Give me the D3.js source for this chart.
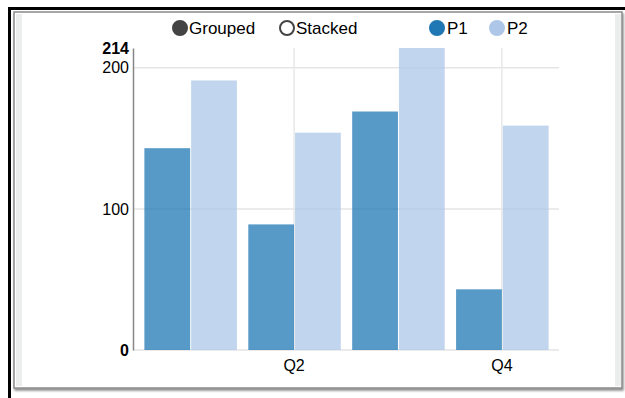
<!DOCTYPE html>
<html>
<head>
<meta charset="utf-8">
<script src="https://cdn.jsdelivr.net/npm/d3@7/dist/d3.min.js"></script>
<style>
  html, body { margin: 0; padding: 0; background: #fff; }
  svg { display: block; font-family: "Liberation Sans", Arial, sans-serif; }
</style>
</head>
<body>
<svg id="chart" width="625" height="398"></svg>
<script>
// Quarterly values for the two series
const categories = ["Q1", "Q2", "Q3", "Q4"];
const seriesNames = ["P1", "P2"];
const p1Values = [143, 89, 169, 43];
const p2Values = [191, 154, 214, 159];
const yTickValues = [0, 100, 200, 214];
const xTickLabels = ["Q2", "Q4"];
const controlLabels = ["Grouped", "Stacked"];

const colors = ["#1f77b4", "#aec7e8"];
const seriesValues = [p1Values, p2Values];

const svg = d3.select("#chart");

// Page frame: dark rules and the shadowed panel
const defs = svg.append("defs");
const f = defs.append("filter").attr("id", "shadow").attr("x", "-5%").attr("y", "-5%").attr("width", "110%").attr("height", "110%");
f.append("feDropShadow").attr("dx", 1).attr("dy", 2).attr("stdDeviation", 1.2).attr("flood-color", "#000").attr("flood-opacity", 0.45);

svg.append("rect").attr("x", 14).attr("y", 12).attr("width", 608).attr("height", 376)
  .attr("fill", "#fff").attr("stroke", "#8a8a8a").attr("stroke-width", 1.5).attr("filter", "url(#shadow)");
svg.append("rect").attr("x", 16).attr("y", 14).attr("width", 6).attr("height", 372).attr("fill", "#eceeee");
svg.append("rect").attr("x", 615).attr("y", 14).attr("width", 6).attr("height", 372).attr("fill", "#eceeee");
svg.append("rect").attr("x", 8).attr("y", 7).attr("width", 617).attr("height", 3).attr("fill", "#000");
svg.append("rect").attr("x", 8).attr("y", 7).attr("width", 3).attr("height", 391).attr("fill", "#000");

// Scales
const x0 = d3.scaleBand().domain(categories).range([133, 559]).paddingInner(0.1).paddingOuter(0.1);
const x1 = d3.scaleBand().domain(seriesNames).range([0, x0.bandwidth()]);
const y = d3.scaleLinear().domain([0, 214]).range([350, 48]);

const plot = svg.append("g");

// Horizontal grid lines
plot.append("g").selectAll("line").data([0, 100, 200]).join("line")
  .attr("x1", 133).attr("x2", 559)
  .attr("y1", d => y(d)).attr("y2", d => y(d))
  .attr("stroke", "#e5e5e5").attr("stroke-width", 1.5);

// Vertical grid lines at labelled quarters
plot.append("g").selectAll("line").data(xTickLabels).join("line")
  .attr("x1", d => x0(d) + x0.bandwidth() / 2).attr("x2", d => x0(d) + x0.bandwidth() / 2)
  .attr("y1", y(214)).attr("y2", y(0))
  .attr("stroke", "#e8e8e8").attr("stroke-width", 1.5);

// Bars
const groups = plot.append("g").selectAll("g").data(categories).join("g")
  .attr("transform", d => `translate(${x0(d)},0)`);
groups.selectAll("rect").data((c, ci) => seriesNames.map((s, si) => ({ s, si, v: seriesValues[si][ci] }))).join("rect")
  .attr("x", d => x1(d.s) + 1)
  .attr("width", x1.bandwidth() - 1)
  .attr("y", d => y(d.v))
  .attr("height", d => y(0) - y(d.v))
  .attr("fill", d => colors[d.si])
  .attr("fill-opacity", 0.75);

// Y axis
const yAxis = d3.axisLeft(y).tickValues(yTickValues).tickSize(0).tickPadding(4);
const yg = svg.append("g").attr("transform", "translate(133,0)").call(yAxis);
yg.select(".domain").attr("stroke", "#888").attr("stroke-width", 1.5);
yg.selectAll("text").attr("font-size", 16).attr("fill", "#000")
  .attr("font-family", "Liberation Sans, Arial, sans-serif")
  .attr("font-weight", d => (d === 0 || d === 214) ? "bold" : "normal");

// X axis labels
const xAxis = d3.axisBottom(x0).tickValues(xTickLabels).tickSize(0).tickPadding(10);
const xg = svg.append("g").attr("transform", "translate(0,350)").call(xAxis);
xg.select(".domain").remove();
xg.selectAll("text").attr("font-size", 16).attr("fill", "#000")
  .attr("font-family", "Liberation Sans, Arial, sans-serif");

// Controls: Grouped / Stacked
const controlX = [180, 287];
const ctrl = svg.append("g").selectAll("g").data(controlLabels).join("g")
  .attr("transform", (d, i) => `translate(${controlX[i]},28)`);
ctrl.append("circle").attr("r", 7)
  .attr("fill", (d, i) => i === 0 ? "#444" : "#fff")
  .attr("stroke", "#444").attr("stroke-width", 2);
ctrl.append("text").attr("x", 9).attr("dy", "0.35em").attr("font-size", 17).text(d => d);

// Legend: P1 / P2
const legendX = [437, 497];
const leg = svg.append("g").selectAll("g").data(seriesNames).join("g")
  .attr("transform", (d, i) => `translate(${legendX[i]},28)`);
leg.append("circle").attr("r", 7).attr("fill", (d, i) => colors[i]).attr("stroke", (d, i) => colors[i]).attr("stroke-width", 2);
leg.append("text").attr("x", 10).attr("dy", "0.35em").attr("font-size", 17).text(d => d);
</script>
</body>
</html>
